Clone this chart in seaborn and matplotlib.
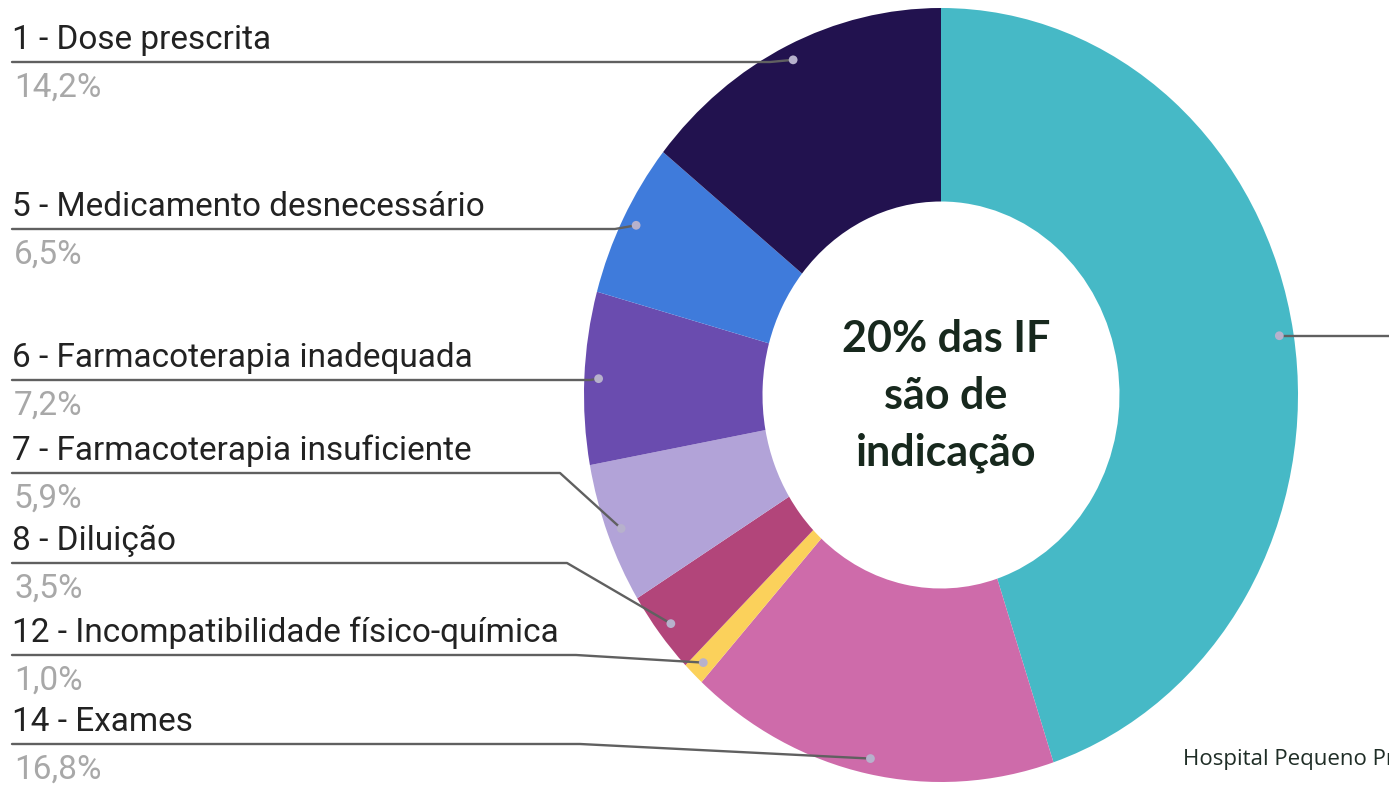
import matplotlib
matplotlib.use('Agg')
import matplotlib.pyplot as plt
import seaborn as sns
import numpy as np

sns.set_theme(style='white')
plt.rcParams['font.family'] = ['Roboto', 'DejaVu Sans']

# Data (clockwise from 12 o'clock)
categorias = ['', '14 - Exames', '12 - Incompatibilidade físico-química', '8 - Diluição',
              '7 - Farmacoterapia insuficiente', '6 - Farmacoterapia inadequada',
              '5 - Medicamento desnecessário', '1 - Dose prescrita']
percentuais = [44.9, 16.8, 1.0, 3.5, 5.9, 7.2, 6.5, 14.2]
cores = ['#46B9C6', '#CE6BAA', '#FBD15B', '#B2457A', '#B2A3D8', '#6A4CAF', '#3F7BDB', '#22124F']

texto_centro = '20% das IF\nsão de\nindicação'
rodape = 'Hospital Pequeno Príncipe'

# layout of the left-hand labels (pixel rows), top to bottom
ordem_rotulos = [7, 6, 5, 4, 3, 2, 1]
linha_y = [62, 229, 380, 473, 563, 655, 744]
dobra_x = [770, 615, 590, 560, 567, 576, 580]

W, H = 1389, 788
fig = plt.figure(figsize=(W / 100, H / 100), dpi=100)

# donut (slightly stretched vertically, like the reference)
cx, cy, rx, ry = 941, 395, 357, 387
pax = fig.add_axes([(cx - rx) / W, (H - cy - ry) / H, 2 * rx / W, 2 * ry / H])
pax.pie(percentuais, colors=cores, startangle=90, counterclock=False, radius=1,
        wedgeprops=dict(width=0.5, linewidth=0))
pax.set_aspect('auto')
pax.set_xlim(-1, 1)
pax.set_ylim(-1, 1)
pax.axis('off')

# overlay in pixel coordinates for labels / leader lines
ax = fig.add_axes([0, 0, 1, 1], zorder=3)
ax.set_xlim(0, W)
ax.set_ylim(H, 0)
ax.axis('off')
ax.patch.set_alpha(0)

# dot positions at the middle of every slice
vals = np.array(percentuais)
meio = (np.cumsum(vals) - vals / 2) / vals.sum() * 2 * np.pi
pts_pie = np.column_stack([0.96 * np.sin(meio), 0.96 * np.cos(meio)])
pts = ax.transData.inverted().transform(pax.transData.transform(pts_pie))

cor_linha = '#606060'
for i, ly, bx in zip(ordem_rotulos, linha_y, dobra_x):
    dx, dy = pts[i]
    ax.plot([12, bx, dx], [ly, ly, dy], color=cor_linha, lw=1.7, solid_capstyle='round', zorder=4)
    ax.text(12, ly - 13, categorias[i], fontsize=24, color='#222222', va='baseline', ha='left')
    pct = f'{percentuais[i]:.1f}%'.replace('.', ',')
    ax.text(14, ly + 35, pct, fontsize=24, color='#a8a8a8', va='baseline', ha='left')

# big slice: leader line runs off the right edge
ax.plot([pts[0][0], W], [pts[0][1], pts[0][1]], color=cor_linha, lw=1.7, zorder=4)

ax.scatter(pts[:, 0], pts[:, 1], s=40, color='#b7b1cc', edgecolor='none', zorder=5)

ax.text(946, 396, texto_centro, ha='center', va='center', fontsize=31, fontweight='bold',
        color='#17281d', family='Lato', linespacing=1.5)
ax.text(1183, 765, rodape, fontsize=16, family='Open Sans', color='#1f2d26',
        va='baseline', ha='left')

fig.savefig('out.png', dpi=100)
